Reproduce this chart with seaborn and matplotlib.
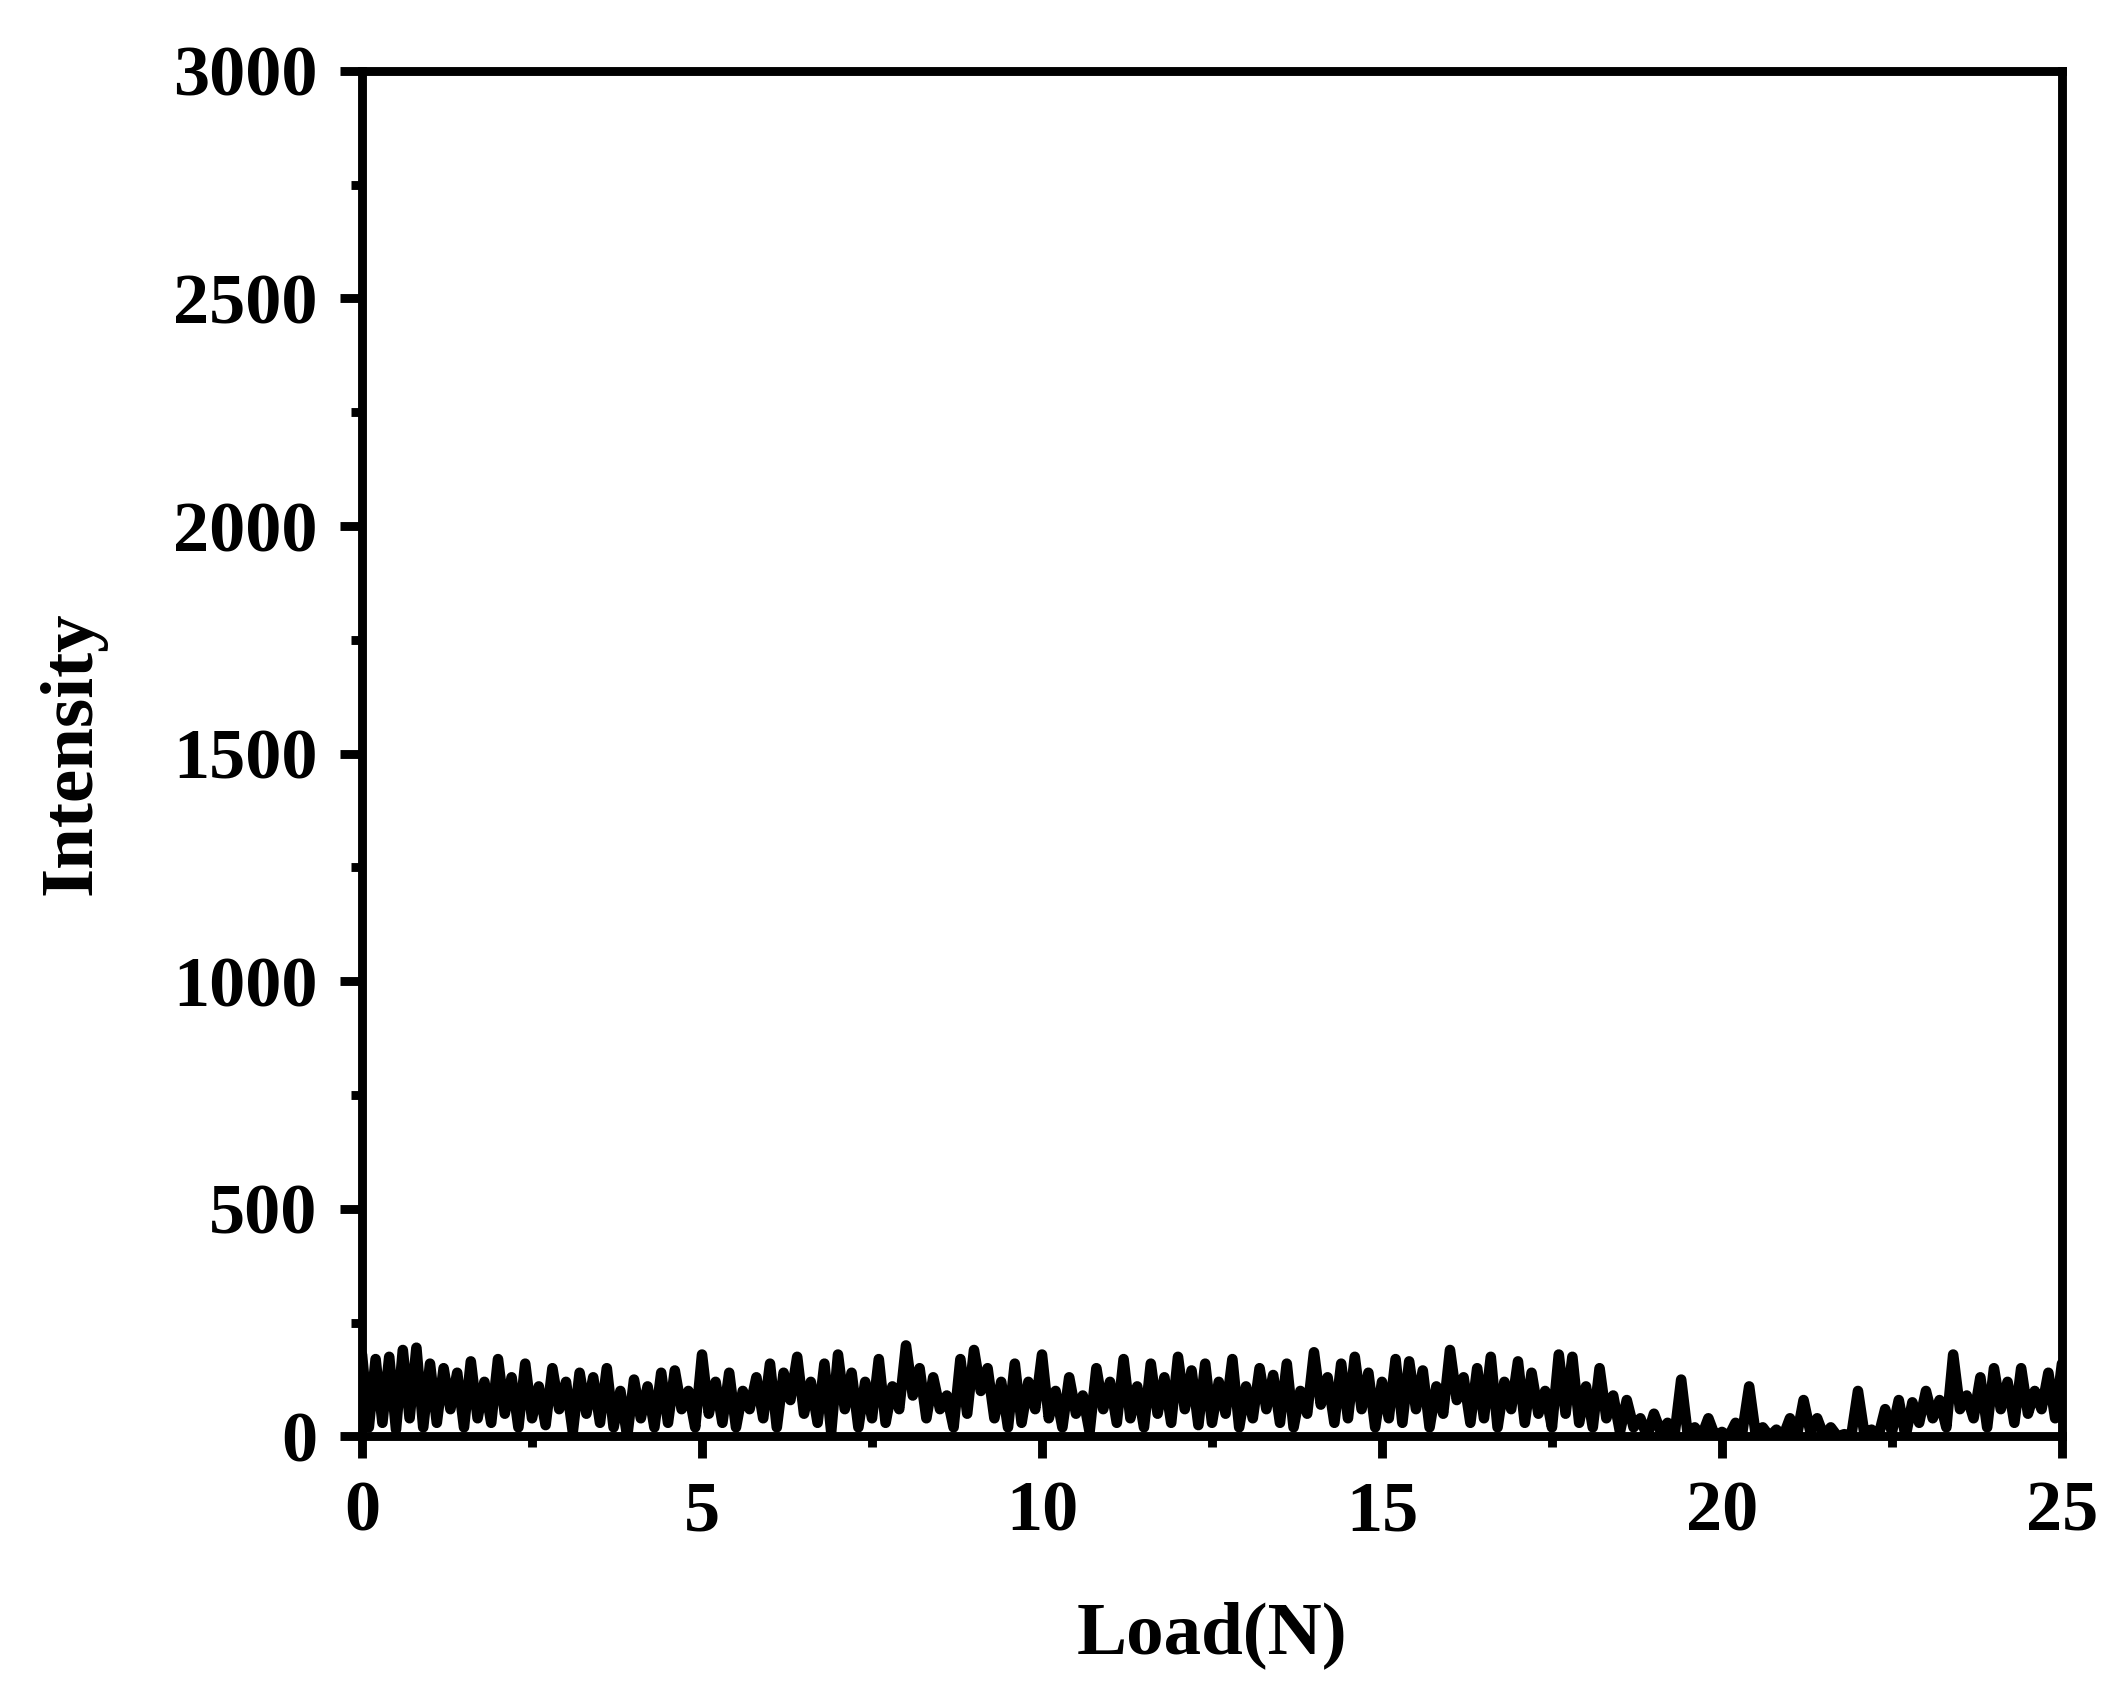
import numpy as np
import matplotlib
matplotlib.use("Agg")
import matplotlib.pyplot as plt
import seaborn as sns
import pandas as pd

# intensity readings, one every 0.1 N from 0 to 25 N
intensity = [
    180, 20, 170, 30, 175, 15, 190, 40, 195, 20, 160, 30, 150, 60, 140, 20, 165, 40, 120, 30,
    170, 50, 130, 20, 160, 40, 110, 25, 150, 60, 120, 10, 140, 50, 130, 30, 150, 20, 100, 0,
    125, 40, 110, 20, 140, 30, 145, 60, 100, 20, 180, 50, 120, 30, 140, 20, 100, 60, 130, 40,
    160, 20, 140, 80, 175, 50, 120, 30, 160, 10, 180, 60, 140, 20, 120, 40, 170, 30, 110, 60,
    200, 90, 150, 40, 130, 60, 90, 20, 170, 50, 190, 100, 150, 40, 120, 20, 160, 30, 120, 60,
    180, 40, 100, 20, 130, 50, 90, 10, 150, 60, 120, 30, 170, 40, 110, 20, 160, 50, 130, 30,
    175, 60, 145, 25, 160, 30, 120, 50, 170, 20, 110, 40, 150, 60, 135, 30, 160, 20, 100, 50,
    185, 70, 130, 30, 160, 40, 175, 60, 140, 20, 120, 40, 170, 30, 165, 60, 145, 20, 110, 50,
    190, 80, 130, 30, 150, 40, 175, 20, 120, 60, 165, 30, 140, 50, 100, 20, 180, 50, 175, 30,
    110, 20, 150, 40, 90, 10, 80, 20, 40, 0, 50, 10, 30, 0, 125, 0, 20, 0, 40, 0,
    10, 0, 30, 10, 110, 0, 20, 0, 15, 0, 40, 0, 80, 10, 40, 0, 20, 0, 5, 0,
    100, 0, 15, 0, 60, 10, 80, 0, 75, 30, 100, 40, 80, 20, 180, 60, 90, 40, 130, 20,
    150, 60, 120, 30, 150, 50, 100, 60, 140, 40, 160, 50, 120, 40, 170, 30, 60, 40, 110, 50,
    90,
]
load = np.round(np.arange(len(intensity)) * 0.1, 1)
df = pd.DataFrame({"load": load, "intensity": intensity})

sns.set_style("ticks", {"axes.edgecolor": "black", "xtick.color": "black",
                        "ytick.color": "black", "text.color": "black",
                        "axes.labelcolor": "black"})
plt.rcParams["font.family"] = ["Liberation Serif", "DejaVu Serif"]
plt.rcParams["font.weight"] = "bold"

fig = plt.figure(figsize=(10.585, 8.43), dpi=200)
ax = fig.add_axes([0.171, 0.148, 0.803, 0.81])
sns.lineplot(data=df, x="load", y="intensity", color="black", linewidth=3.8, ax=ax)

ax.set_xlim(0, 25)
ax.set_ylim(0, 3000)
ax.set_xticks(range(0, 26, 5))
ax.set_yticks(range(0, 3001, 500))
ax.set_xticks(np.arange(2.5, 25, 5), minor=True)
ax.set_yticks(np.arange(250, 3000, 500), minor=True)
ax.set_xlabel("Load(N)", fontsize=27, fontweight="bold", labelpad=20)
ax.set_ylabel("Intensity", fontsize=27, fontweight="bold", labelpad=24)
for s in ax.spines.values():
    s.set_linewidth(3.2)
ax.tick_params(which="major", length=8, width=3.2, labelsize=26, pad=8)
ax.tick_params(which="minor", length=4, width=3.2)
for lab in ax.get_xticklabels() + ax.get_yticklabels():
    lab.set_fontweight("bold")

fig.savefig("out.png", dpi=200)
